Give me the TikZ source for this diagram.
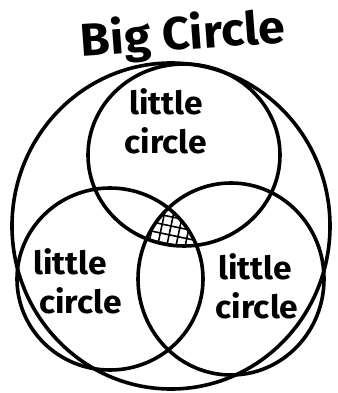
\documentclass[tikz,border=0pt]{standalone}
\usepackage{fontspec}
\setmainfont{Fira Sans}
\usetikzlibrary{positioning,calc}
\tikzset{
  ring/.style={draw=black,line width=3.6pt},
  hatch/.style={black,line width=1.6pt},
  lbl/.style={font=\fontsize{32}{32}\selectfont\bfseries,inner sep=0pt,xscale=1.05}
}

\begin{document}
\begin{tikzpicture}[x=1pt,y=-1pt]
            \useasboundingbox (0,0) rectangle (337,393);
            \coordinate (Big) at (171,226);
            \coordinate (Top) at (184,155);
            \coordinate (Left) at (110,279);
            \coordinate (Right) at (231,279);
            % the hatched part, inside all three little circles
            \begin{scope}
              \clip (Top) circle [x radius=96,y radius=91];
              \clip (Left) circle [x radius=93,y radius=91];
              \clip (Right) circle [x radius=93,y radius=96];
              \foreach \k in {-12,...,12}
              {
                \draw[hatch,rotate around={-12:(Big)}] ($(Big)+(\k*9,-150)$) -- ++(0,300);
                \draw[hatch,rotate around={-12:(Big)}] ($(Big)+(-150,\k*9)$) -- ++(300,0);
              }
            \end{scope}
            \draw[ring] (Big) ellipse [x radius=159,y radius=163];
            \draw[ring] (Top) circle [x radius=96,y radius=91];
            \draw[ring] (Left) circle [x radius=93,y radius=91];
            \draw[ring] (Right) circle [x radius=93,y radius=96];
            \node[lbl,font=\fontsize{46}{46}\selectfont\bfseries,rotate=4] (bigname) at (183,36) {Big Circle};
            \node[lbl] (topone) at (166,102) {little};
            \node[lbl,below=12pt of topone.south,anchor=north,xshift=0pt] (toptwo) {circle};
            \node[lbl] (leftone) at (70,262) {little};
            \node[lbl,below=12pt of leftone.south,anchor=north,xshift=10pt] (lefttwo) {circle};
            \node[lbl] (rightone) at (255,267) {little};
            \node[lbl,below=12pt of rightone.south,anchor=north,xshift=2pt] (righttwo) {circle};
        \end{tikzpicture}
\end{document}
